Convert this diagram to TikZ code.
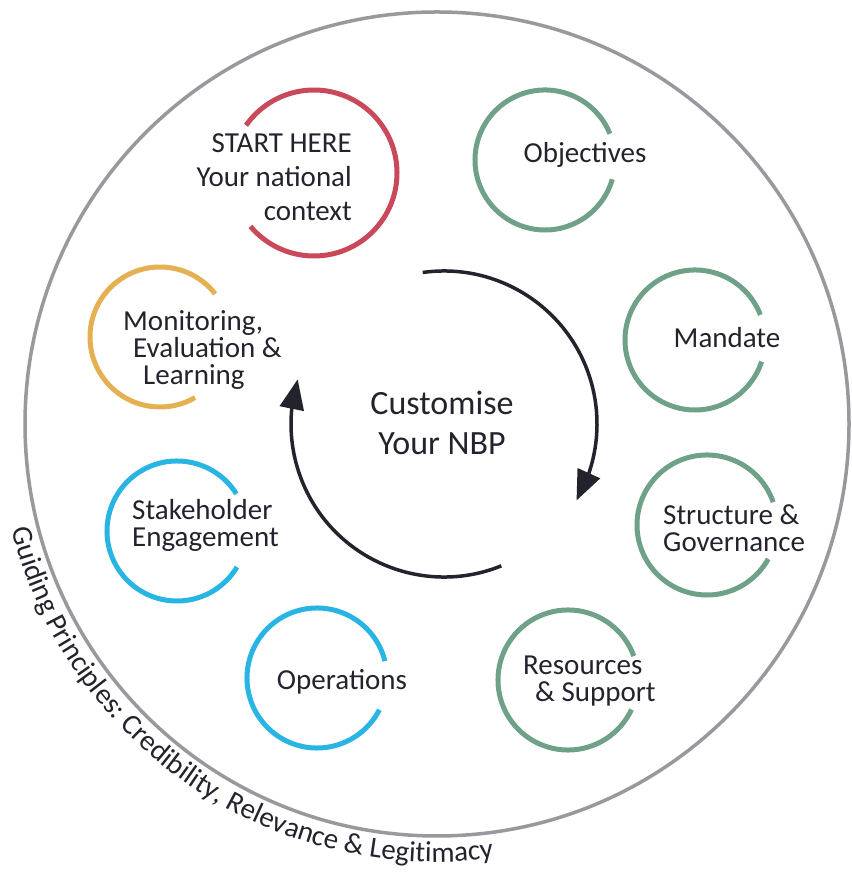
\documentclass[tikz,border=0pt]{standalone}
\usepackage{fontspec}
\setmainfont{Carlito}
\usepackage{xcolor}
\usetikzlibrary{calc,
	decorations.text,
	arrows.meta,
	bending}
\definecolor{ringred}{RGB}{201,73,90}
\definecolor{ringgreen}{RGB}{111,160,136}
\definecolor{ringorange}{RGB}{228,176,82}
\definecolor{ringblue}{RGB}{41,181,227}
\definecolor{rimgray}{RGB}{152,152,158}
\definecolor{inkdark}{RGB}{35,35,45}
\tikzstyle{rim}=[draw=rimgray, line width=3.5pt]
\tikzstyle{ring}=[line width=5pt]
\tikzstyle{lbl}=[inner sep=0, text=inkdark, font=\fontsize{29}{27}\selectfont]
\tikzstyle{cyclearrow}=[draw=inkdark, line width=3.5pt,
		-{Triangle[length=30pt, width=24pt, flex]}]

\begin{document}
\begin{tikzpicture}[x=1pt, y=1pt]
	\useasboundingbox (0,0) rectangle (851,874);
	\coordinate (hub) at (437,450);
	\coordinate (spin) at (444,450);
	\coordinate (start) at (314,701);
	\coordinate (obj) at (545,714);
	\coordinate (mand) at (695,534);
	\coordinate (struct) at (707,349);
	\coordinate (res) at (568,194);
	\coordinate (ops) at (317,196);
	\coordinate (stake) at (177,343);
	\coordinate (mel) at (160,537);

	\draw[rim] (hub) circle[radius=412pt];

	\draw[ring, ringred] ($(start)+(220:83pt)$) arc[start angle=220, end angle=505, radius=83pt];
	\draw[ring, ringgreen] ($(obj)+(22:70pt)$) arc[start angle=22, end angle=344, radius=70pt];
	\draw[ring, ringgreen] ($(mand)+(21:70pt)$) arc[start angle=21, end angle=342, radius=70pt];
	\draw[ring, ringgreen] ($(struct)+(19:70pt)$) arc[start angle=19, end angle=331, radius=70pt];
	\draw[ring, ringgreen] ($(res)+(20:70pt)$) arc[start angle=20, end angle=335, radius=70pt];
	\draw[ring, ringblue] ($(ops)+(14:70pt)$) arc[start angle=14, end angle=333, radius=70pt];
	\draw[ring, ringblue] ($(stake)+(32:70pt)$) arc[start angle=32, end angle=329, radius=70pt];
	\draw[ring, ringorange] ($(mel)+(38:70pt)$) arc[start angle=38, end angle=300, radius=70pt];

	\node[lbl, anchor=east, align=right, font=\fontsize{29}{34}\selectfont] (starttext) at (352,697) {START HERE\\Your national\\context};
	\node[lbl] (objtext) at (585,719) {Objectives};
	\node[lbl] (mandtext) at (727,536) {Mandate};
	\node[lbl, anchor=west, align=left] (structtext) at (663,346) {Structure \&\\Governance};
	\node[lbl, anchor=west, align=left] (restext) at (523,193) {Resources\\\hspace*{12pt}\& Support};
	\node[lbl] (opstext) at (342,192) {Operations};
	\node[lbl, anchor=west, align=left] (staketext) at (132,349) {Stakeholder\\Engagement};
	\node[lbl, anchor=west, align=left] (meltext) at (123,524) {Monitoring,\\\hspace*{10pt}Evaluation \&\\\hspace*{20pt}Learning};

	\draw[cyclearrow] ($(spin)+(98:153pt)$) arc[start angle=98, end angle=-30, radius=153pt];
	\draw[cyclearrow] ($(spin)+(-68:153pt)$) arc[start angle=-68, end angle=-197, radius=153pt];
	\node[lbl, align=center, font=\fontsize{34}{40}\selectfont] (hubtext) at (442,451) {Customise\\Your NBP};

	\path[decorate, decoration={text along path, text align=left,
		text={|\fontsize{29}{29}\selectfont\color{inkdark}|Guiding Principles: Credibility, Relevance {\&} Legitimacy}}]
		($(hub)+(194:438pt)$) arc[start angle=194, end angle=300, radius=438pt];
\end{tikzpicture}
\end{document}
